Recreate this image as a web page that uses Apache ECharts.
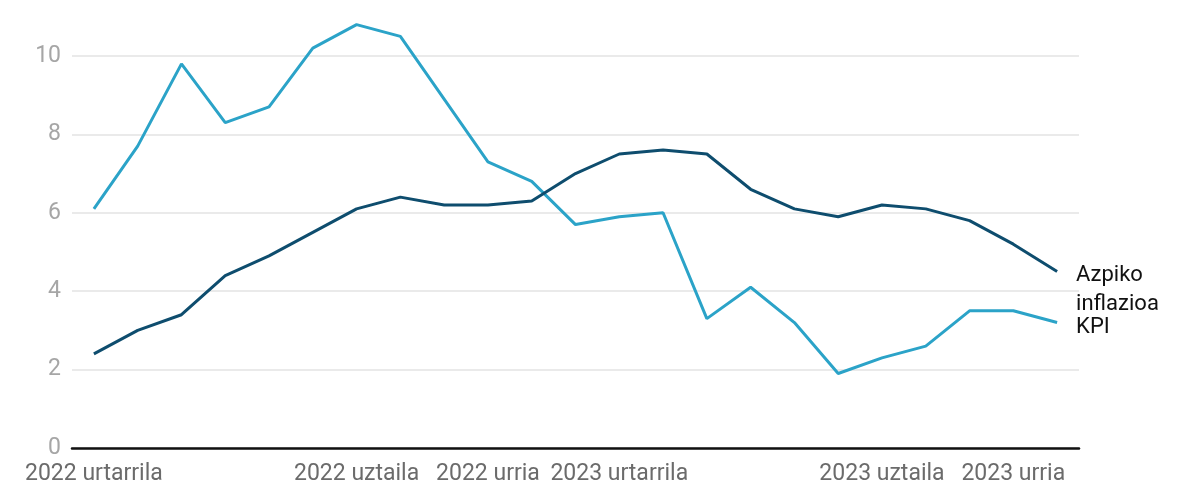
<!DOCTYPE html>
<html>
<head>
<meta charset="utf-8">
<script src="https://cdn.jsdelivr.net/npm/echarts@6/dist/echarts.min.js"></script>
<style>
  html, body { margin: 0; padding: 0; background: #fff; }
  #chart { width: 1200px; height: 500px; }
</style>
</head>
<body>
<div id="chart"></div>
<script>
// hilabeteak: 2022 urtarrila - 2023 azaroa
const months = [
    '2022 urtarrila', '2022 otsaila', '2022 martxoa', '2022 apirila', '2022 maiatza', '2022 ekaina',
    '2022 uztaila', '2022 abuztua', '2022 iraila', '2022 urria', '2022 azaroa', '2022 abendua',
    '2023 urtarrila', '2023 otsaila', '2023 martxoa', '2023 apirila', '2023 maiatza', '2023 ekaina',
    '2023 uztaila', '2023 abuztua', '2023 iraila', '2023 urria', '2023 azaroa'
];
const shownLabels = ['2022 urtarrila', '2022 uztaila', '2022 urria', '2023 urtarrila', '2023 uztaila', '2023 urria'];

const kpi = [6.1, 7.7, 9.8, 8.3, 8.7, 10.2, 10.8, 10.5, 8.9, 7.3, 6.8, 5.7,
             5.9, 6.0, 3.3, 4.1, 3.2, 1.9, 2.3, 2.6, 3.5, 3.5, 3.2];
const azpiko = [2.4, 3.0, 3.4, 4.4, 4.9, 5.5, 6.1, 6.4, 6.2, 6.2, 6.3, 7.0,
                7.5, 7.6, 7.5, 6.6, 6.1, 5.9, 6.2, 6.1, 5.8, 5.2, 4.5];

const yTicks = [0, 2, 4, 6, 8, 10];

let chart = echarts.init(document.getElementById('chart'));

let option = {
    animation: false,
    textStyle: { fontFamily: 'Roboto' },
    grid: { left: 72, right: 121, top: 56, bottom: 52 },
    xAxis: {
        type: 'category',
        data: months,
        boundaryGap: true,
        axisLine: { lineStyle: { color: '#111', width: 2.5 } },
        axisTick: { show: false },
        axisLabel: {
            color: '#6b6b6b',
            fontSize: 23,
            margin: 15,
            interval: (i, v) => shownLabels.indexOf(v) >= 0
        }
    },
    yAxis: {
        type: 'value',
        min: yTicks[0],
        max: yTicks[yTicks.length - 1],
        interval: 2,
        axisLine: { show: false },
        axisTick: { show: false },
        axisLabel: { color: '#a6a6a6', fontSize: 23, margin: 11 },
        splitLine: { lineStyle: { color: '#e3e3e3', width: 1.5 } }
    },
    series: [
        {
            name: 'KPI',
            type: 'line',
            data: kpi,
            clip: false,
            showSymbol: false,
            lineStyle: { color: '#2ba3c8', width: 3 },
            endLabel: {
                show: true,
                formatter: 'KPI',
                color: '#111',
                fontSize: 22,
                distance: 19,
                offset: [0, 5]
            }
        },
        {
            name: 'Azpiko inflazioa',
            type: 'line',
            data: azpiko,
            clip: false,
            showSymbol: false,
            lineStyle: { color: '#0e4d6e', width: 3 },
            endLabel: {
                show: true,
                formatter: 'Azpiko\ninflazioa',
                color: '#111',
                fontSize: 22,
                lineHeight: 29,
                distance: 19,
                offset: [0, 18]
            }
        }
    ]
};

chart.setOption(option);
</script>
</body>
</html>
